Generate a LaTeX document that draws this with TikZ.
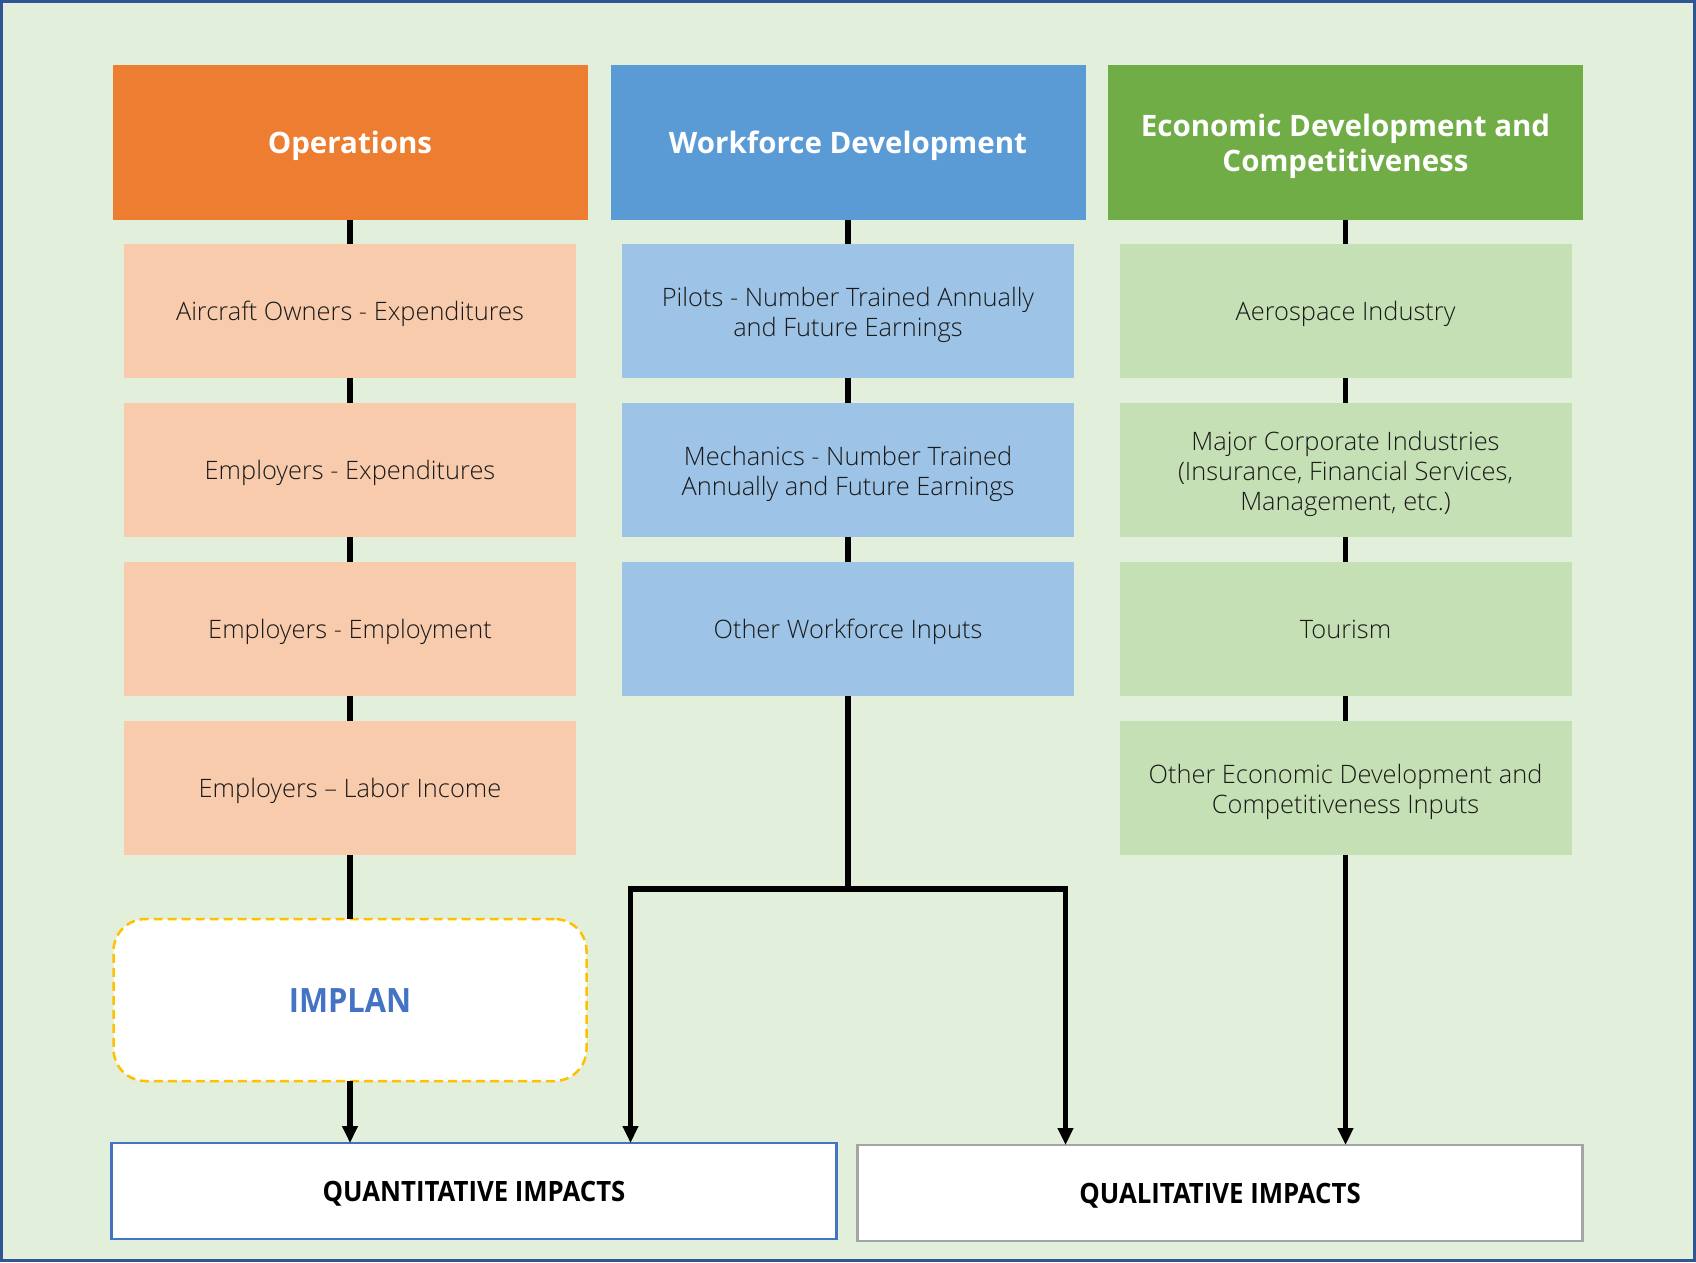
\documentclass[tikz,border=0pt]{standalone}
\usepackage{fontspec}
\setmainfont{Open Sans}
\newfontfamily\condfont{Open Sans}[FakeStretch=0.92]
\newfontfamily\lightfont{Open Sans Light}
\usetikzlibrary{arrows.meta}

\definecolor{pagebg}{HTML}{E2EFDA}
\definecolor{pageframe}{HTML}{2F5597}
\definecolor{opsdark}{HTML}{ED7D31}
\definecolor{opslight}{HTML}{F8CBAD}
\definecolor{wfddark}{HTML}{5B9BD5}
\definecolor{wfdlight}{HTML}{9DC3E6}
\definecolor{ecodark}{HTML}{70AD47}
\definecolor{ecolight}{HTML}{C5E0B4}
\definecolor{implanedge}{HTML}{FFC000}
\definecolor{implantext}{HTML}{4472C4}
\definecolor{quantedge}{HTML}{4472C4}
\definecolor{qualedge}{HTML}{A5A5A5}
\definecolor{bodytext}{HTML}{1A1A1A}

% invisible strut that raises the first line of a multi-line label
\newcommand{\firstlinestrut}[1]{\rule{0pt}{#1}}

% struts at the start and end of each one-line label keep the text on the
% font's line metrics instead of the glyph bounds
\tikzset{
  header/.style={minimum width=475pt, minimum height=155pt, inner sep=0pt, outer sep=0pt,
    text=white, align=center, font=\fontsize{29.5}{35}\selectfont\bfseries,
    execute at begin node={\rule{0pt}{30pt}}, execute at end node={\rule[-8pt]{0pt}{0pt}}},
  item/.style={minimum width=452pt, minimum height=134pt, inner sep=0pt, outer sep=0pt,
    text=bodytext, align=center, font=\fontsize{25.4}{30}\selectfont\lightfont,
    execute at begin node={\rule{0pt}{27pt}}, execute at end node={\rule[-8pt]{0pt}{0pt}}},
  outcome/.style={minimum width=725pt, minimum height=96pt, inner sep=0pt, outer sep=0pt,
    fill=white, line width=2.5pt, font=\fontsize{28}{30}\selectfont\condfont\bfseries,
    execute at begin node={\rule{0pt}{25pt}}, execute at end node={\rule[-4pt]{0pt}{0pt}}},
  conn/.style={line width=5.5pt, black},
  arrow/.style={conn, line join=miter, -{Triangle[length=17pt,width=15pt]}}
}

\begin{document}
\begin{tikzpicture}[x=1pt, y=-1pt]
  % page background and frame
  \fill[pagebg] (0,0) rectangle (1696,1262);
  \draw[pageframe, line width=3pt] (1.5,1.5) rectangle (1694.5,1260.5);
  \useasboundingbox (0,0) rectangle (1696,1262);

  % column headers
  \node[header, fill=opsdark] (ops) at (350,142) {Operations};
  \node[header, fill=wfddark] (wfd) at (848,142) {Workforce Development};
  \node[header, fill=ecodark] (eco) at (1345.5,142) {\firstlinestrut{31pt}Economic Development and\\Competitiveness};

  % operations column
  \node[item, fill=opslight] (o1) at (350,311) {Aircraft Owners - Expenditures};
  \node[item, fill=opslight] (o2) at (350,470) {Employers - Expenditures};
  \node[item, fill=opslight] (o3) at (350,629) {Employers - Employment};
  \node[item, fill=opslight] (o4) at (350,788) {Employers – Labor Income};

  % workforce column
  \node[item, fill=wfdlight] (w1) at (848,311) {\firstlinestrut{28pt}Pilots - Number Trained Annually\\and Future Earnings};
  \node[item, fill=wfdlight] (w2) at (848,470) {\firstlinestrut{28pt}Mechanics - Number Trained\\Annually and Future Earnings};
  \node[item, fill=wfdlight] (w3) at (848,629) {Other Workforce Inputs};

  % economic development column
  \node[item, fill=ecolight] (e1) at (1345.5,311) {Aerospace Industry};
  \node[item, fill=ecolight] (e2) at (1345.5,470) {\firstlinestrut{28pt}Major Corporate Industries\\(Insurance, Financial Services,\\Management, etc.)};
  \node[item, fill=ecolight] (e3) at (1345.5,629) {Tourism};
  \node[item, fill=ecolight] (e4) at (1345.5,788) {\firstlinestrut{28pt}Other Economic Development and\\Competitiveness Inputs};

  % model and outcomes
  \node[minimum width=473pt, minimum height=162pt, inner sep=0pt, outer sep=0pt,
        fill=white, draw=implanedge, line width=2.5pt, dash pattern=on 9pt off 5pt,
        rounded corners=32pt, text=implantext,
        font=\fontsize{33.5}{36}\selectfont\condfont\bfseries] (implan) at (350,1000) {IMPLAN};
  \node[outcome, draw=quantedge] (quant) at (474,1191) {QUANTITATIVE IMPACTS};
  \node[outcome, draw=qualedge] (qual) at (1220,1193) {QUALITATIVE IMPACTS};

  % operations chain
  \draw[conn] (ops) -- (o1);
  \draw[conn] (o1) -- (o2);
  \draw[conn] (o2) -- (o3);
  \draw[conn] (o3) -- (o4);
  \draw[conn] (o4) -- (implan);
  \draw[arrow] (implan) -- (quant.north -| implan);

  % workforce chain and split
  \draw[conn] (wfd) -- (w1);
  \draw[conn] (w1) -- (w2);
  \draw[conn] (w2) -- (w3);
  \coordinate (jc) at (848,889);
  \coordinate (jl) at (630.5,889);
  \coordinate (jr) at (1065.5,889);
  \draw[conn] (w3.south) -- ([yshift=-2.75pt]jc);
  \draw[arrow] (jc) -- (jl) -- (quant.north -| jl);
  \draw[arrow] (jc) -- (jr) -- (qual.north -| jr);

  % economic development chain
  \draw[conn] (eco) -- (e1);
  \draw[conn] (e1) -- (e2);
  \draw[conn] (e2) -- (e3);
  \draw[conn] (e3) -- (e4);
  \draw[arrow] (e4) -- (qual.north -| e4);
\end{tikzpicture}
\end{document}
